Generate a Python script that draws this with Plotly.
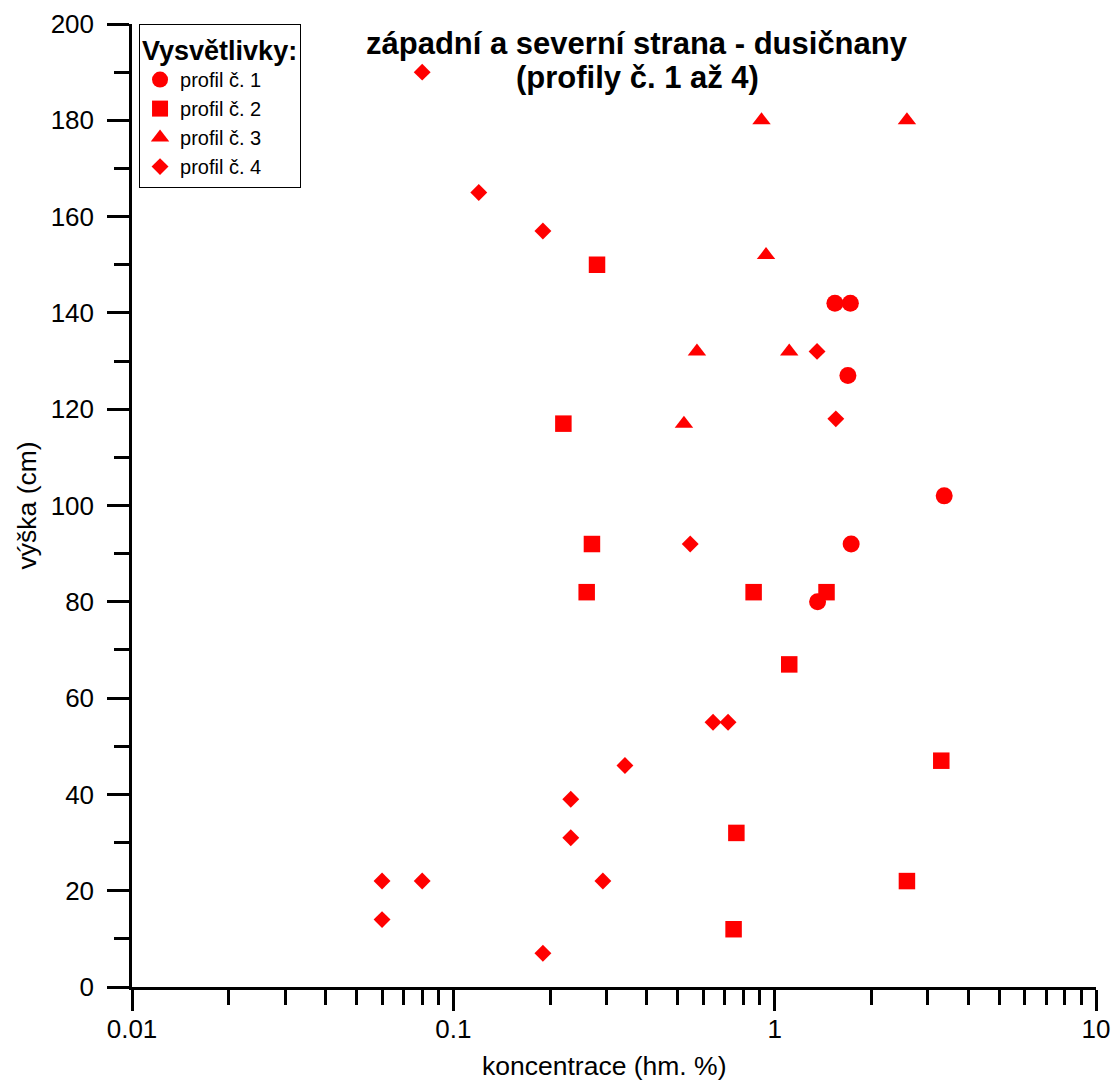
import plotly.graph_objects as go

# ---- data ----
p1_x = [1.54, 1.72, 1.69, 3.37, 1.73, 1.36]
p1_y = [142, 142, 127, 102, 92, 80]

p2_x = [0.28, 0.22, 0.27, 0.26, 0.86, 1.45, 1.11, 3.30, 0.76, 2.58, 0.745]
p2_y = [150, 117, 92, 82, 82, 82, 67, 47, 32, 22, 12]

p3_x = [0.91, 2.58, 0.94, 0.573, 1.11, 0.522]
p3_y = [180, 180, 152, 132, 132, 117]

p4_x = [0.08, 0.12, 0.19, 1.355, 1.55, 0.546, 0.643, 0.716, 0.342, 0.232, 0.232,
        0.06, 0.08, 0.292, 0.06, 0.19]
p4_y = [190, 165, 157, 132, 118, 92, 55, 55, 46, 39, 31, 22, 22, 22, 14, 7]

series_names = ["profil č. 1", "profil č. 2", "profil č. 3", "profil č. 4"]
x_tickvals = [0.01, 0.1, 1, 10]
x_ticktext = ["0.01", "0.1", "1", "10"]
title_lines = ["západní a severní strana - dusičnany", "(profily č. 1 až 4)"]
x_title = "koncentrace (hm. %)"
y_title = "výška (cm)"
legend_title = "Vysvětlivky:"

FONT = "Arial, 'Liberation Sans', sans-serif"
RED = "#FF0000"

fig = go.Figure()
series = [
    (p1_x, p1_y, "circle", 17),
    (p2_x, p2_y, "square", 16.5),
    (p3_x, p3_y, "triangle-up", 16),
    (p4_x, p4_y, "diamond", 13),
]
for (xs, ys, sym, sz), name in zip(series, series_names):
    fig.add_trace(go.Scatter(
        x=xs, y=ys, mode="markers", name=name,
        marker=dict(symbol=sym, size=sz, color=RED, line=dict(width=0)),
    ))

minor_x = [d * 10 ** e for e in (-2, -1, 0) for d in range(2, 10)]

fig.update_layout(
    width=1114, height=1082, autosize=False,
    margin=dict(l=132, r=18, t=24, b=95, autoexpand=False),
    paper_bgcolor="white", plot_bgcolor="white",
    font=dict(family=FONT, color="black", size=26),
    showlegend=True,
    legend=dict(
        x=0.0073, y=1.0, xanchor="left", yanchor="top",
        bgcolor="white", bordercolor="black", borderwidth=1,
        font=dict(family=FONT, size=20, color="black"),
        title=dict(text="<b>" + legend_title + "</b>",
                   font=dict(family=FONT, size=27, color="black")),
        tracegroupgap=0, itemsizing="trace",
    ),
    xaxis=dict(
        type="log", range=[-2, 1], automargin=False,
        showgrid=False, zeroline=False,
        showline=True, linecolor="black", linewidth=2.5,
        ticks="outside", ticklen=21, tickwidth=2.5, tickcolor="black",
        tickvals=x_tickvals, ticktext=x_ticktext,
        tickfont=dict(family=FONT, size=26, color="black"),
        ticklabelstandoff=-4,
        minor=dict(tickvals=minor_x, ticks="outside", ticklen=15,
                   tickwidth=2.5, tickcolor="black", showgrid=False),
    ),
    yaxis=dict(
        range=[0, 200], automargin=False,
        showgrid=False, zeroline=False,
        showline=True, linecolor="black", linewidth=2.5,
        ticks="outside", ticklen=22, tickwidth=2.5, tickcolor="black",
        tick0=0, dtick=20,
        tickfont=dict(family=FONT, size=26, color="black"),
        ticklabelstandoff=8,
        minor=dict(dtick=10, ticks="outside", ticklen=15,
                   tickwidth=2.5, tickcolor="black", showgrid=False),
    ),
    annotations=[
        dict(text="<b>" + title_lines[0] + "</b>", xref="paper", yref="paper",
             x=0.524, y=0.980, xanchor="center", yanchor="middle",
             showarrow=False, font=dict(family=FONT, size=31, color="black")),
        dict(text="<b>" + title_lines[1] + "</b>", xref="paper", yref="paper",
             x=0.524, y=0.944, xanchor="center", yanchor="middle",
             showarrow=False, font=dict(family=FONT, size=31, color="black")),
        dict(text=x_title, xref="paper", yref="paper",
             x=0.4896, y=-0.0817, xanchor="center", yanchor="middle",
             showarrow=False, font=dict(family=FONT, size=26.5, color="black")),
        dict(text=y_title, xref="paper", yref="paper", textangle=-90,
             x=-0.109, y=0.5, xanchor="center", yanchor="middle",
             showarrow=False, font=dict(family=FONT, size=26.5, color="black")),
    ],
)

fig.write_html("out.html", config={"displayModeBar": False},
               post_script="document.body.style.margin='0px';")
